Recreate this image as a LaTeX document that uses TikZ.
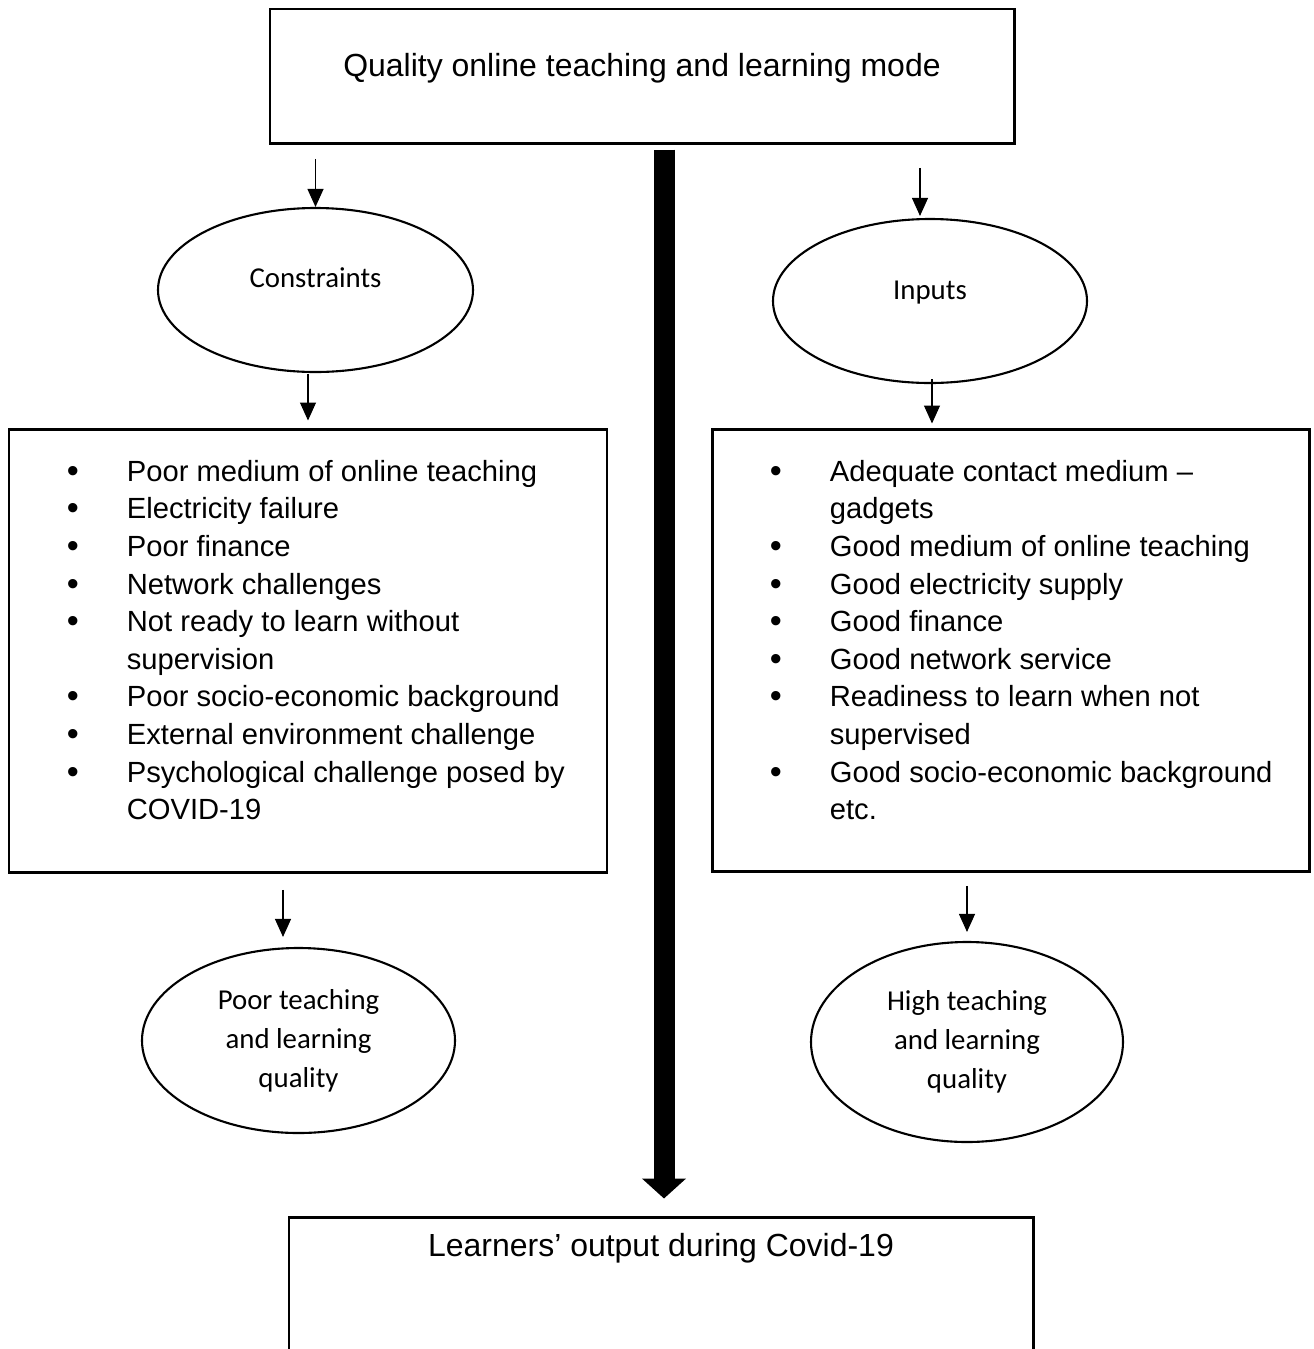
\documentclass[tikz,border=0pt]{standalone}
\usepackage{fontspec}
\setmainfont{Liberation Sans}
\newfontfamily\calibri{Carlito}
\usetikzlibrary{positioning,arrows.meta,shapes.geometric,calc}
\newcommand{\blt}{\raisebox{-0.6pt}{\fontsize{19.5}{21.4}\selectfont •}}
\tikzset{
box/.style={
draw,
line width=1.7pt,
inner sep=0pt
},
oval/.style={
draw,
ellipse,
line width=1.2pt,
inner sep=0pt,
align=center,
font=\calibri\fontsize{16.4}{22.1}\selectfont
},
ovaltext/.style={
font=\calibri\fontsize{16.4}{22.1}\selectfont
},
heading/.style={
font=\fontsize{18.2}{22}\selectfont
},
listtext/.style={
anchor=north west,
inner sep=0pt,
font=\fontsize{16.6}{21.4}\selectfont
},
arrow/.style={
-{Triangle[width=3.2mm,length=3.6mm]},
line width=0.6pt
},
mainarrow/.style={
-{Triangle[width=8.6mm,length=4mm]},
line width=4.2mm
}
}

\begin{document}
\begin{tikzpicture}
\useasboundingbox (0,0) rectangle (26.28,-26.98);

% boxes
\node[box,minimum width=14.88cm,minimum height=2.68cm](top) at (12.84,-1.52){};
\node[heading](toptext) at ([yshift=0.16cm]top.center){Quality online teaching and learning mode};
\node[box,minimum width=14.88cm,minimum height=4cm](out) at (13.22,-26.34){};
\node[heading](outtext) at ([yshift=-0.66cm]out.north){Learners’ output during Covid-19};
\node[box,minimum width=11.96cm,minimum height=8.86cm](lbox) at (6.16,-13.01){};
\node[box,minimum width=11.94cm,minimum height=8.84cm](rbox) at (20.21,-13.0){};

% ellipses
\node[oval,minimum width=6.3cm,minimum height=3.28cm](cons) at (6.31,-5.8){};
\node[ovaltext](constext) at ([yshift=0.24cm]cons.center){Constraints};
\node[oval,minimum width=6.28cm,minimum height=3.28cm](inputs) at (18.6,-6.02){};
\node[ovaltext](inputstext) at ([yshift=0.16cm]inputs.center){Inputs};
\node[oval,minimum width=6.26cm,minimum height=3.7cm](poor) at (5.97,-20.81){Poor teaching\\and learning\\quality};
\node[oval,minimum width=6.24cm,minimum height=4cm](high) at (19.34,-20.84){High teaching\\and learning\\quality};

% lists
\node[listtext](conslist) at ([xshift=1.18cm,yshift=-0.54cm]lbox.north west){%
\begin{tabular}{@{}p{1.2cm}@{}l@{}}
\blt&Poor medium of online teaching\\
\blt&Electricity failure\\
\blt&Poor finance\\
\blt&Network challenges\\
\blt&Not ready to learn without\\
&supervision\\
\blt&Poor socio-economic background\\
\blt&External environment challenge\\
\blt&Psychological challenge posed by\\
&COVID-19
\end{tabular}};
\node[listtext](inputslist) at ([xshift=1.18cm,yshift=-0.54cm]rbox.north west){%
\begin{tabular}{@{}p{1.2cm}@{}l@{}}
\blt&Adequate contact medium –\\
&gadgets\\
\blt&Good medium of online teaching\\
\blt&Good electricity supply\\
\blt&Good finance\\
\blt&Good network service\\
\blt&Readiness to learn when not\\
&supervised\\
\blt&Good socio-economic background\\
&etc.
\end{tabular}};

% arrows
\coordinate(axis) at (13.28,0);
\coordinate[above=0.96cm of cons.north](c1);
\coordinate[above=1.08cm of lbox.north](c2);
\coordinate[above=1.14cm of poor.north,xshift=-0.31cm](c3);
\coordinate[above=1.0cm of inputs.north,xshift=-0.2cm](c4);
\coordinate[above=0.1cm of inputs.south,xshift=0.04cm](c5);
\coordinate[above=1.1cm of high.north](c6);

\draw[mainarrow,shorten <=0.1cm,shorten >=0.34cm](top.south -| axis)--(out.north -| axis);
\draw[arrow](c1)--(cons.north);
\draw[arrow,shorten >=0.14cm](c2)--(lbox.north);
\draw[arrow,shorten >=0.2cm](c3)--(c3 |- poor.north);
\draw[arrow,shorten >=0.04cm](c4)--(c4 |- inputs.north);
\draw[arrow,shorten >=0.08cm](c5)--(c5 |- rbox.north);
\draw[arrow,shorten >=0.18cm](c6)--(high.north);
\end{tikzpicture}
\end{document}
